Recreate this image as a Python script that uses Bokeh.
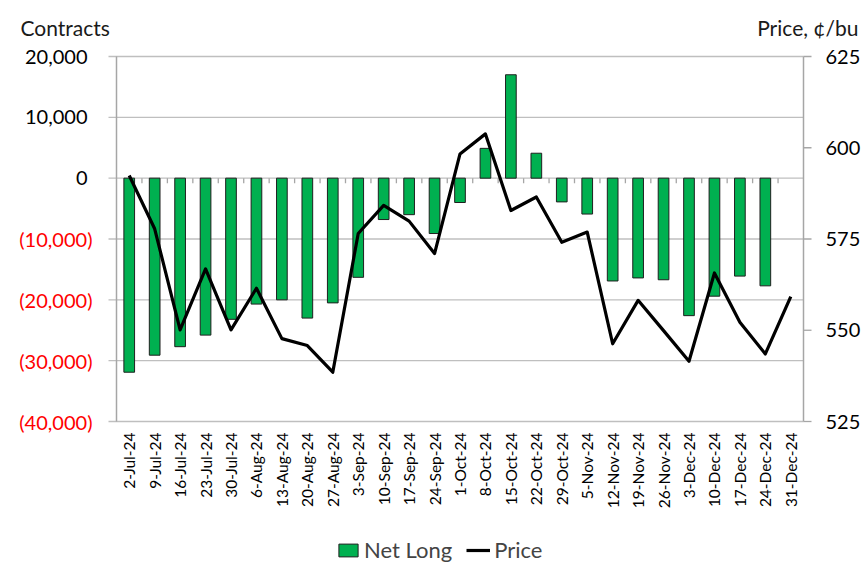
import numpy as np
from bokeh.plotting import figure
from bokeh.models import Range1d, Legend, LegendItem
from bokeh.embed import file_html
from bokeh.resources import INLINE
from bokeh.core.properties import value

dates = ["2-Jul-24", "9-Jul-24", "16-Jul-24", "23-Jul-24", "30-Jul-24", "6-Aug-24",
         "13-Aug-24", "20-Aug-24", "27-Aug-24", "3-Sep-24", "10-Sep-24", "17-Sep-24",
         "24-Sep-24", "1-Oct-24", "8-Oct-24", "15-Oct-24", "22-Oct-24", "29-Oct-24",
         "5-Nov-24", "12-Nov-24", "19-Nov-24", "26-Nov-24", "3-Dec-24", "10-Dec-24",
         "17-Dec-24", "24-Dec-24", "31-Dec-24"]
net_long = [-31900, -29100, -27700, -25800, -23200, -20700, -20000, -23000, -20500,
            -16300, -6800, -6000, -9100, -4000, 4900, 17000, 4100, -3900,
            -5900, -16900, -16400, -16700, -22600, -19400, -16100, -17700]
price = [592.4, 577.8, 550.1, 566.8, 550.1, 561.5, 547.7, 545.8, 538.5,
         576.5, 584.2, 579.9, 571.0, 598.3, 603.8, 582.8, 586.5, 574.1,
         576.9, 546.3, 558.2, 549.9, 541.5, 565.7, 552.2, 543.5, 559.2]
left_ticks = [-40000, -30000, -20000, -10000, 0, 10000, 20000]
right_ticks = [525, 550, 575, 600, 625]
left_title = "Contracts"
right_title = "Price, ¢/bu"

FONT = "Lato"
GRID = "#BFBFBF"
AXIS = "#A6A6A6"

# layout (pixels): canvas and plot-area box
W, H = 865, 564
F_LEFT, F_RIGHT, F_TOP, F_BOTTOM = 116, 803, 56, 421

n = len(dates)
idx = list(range(n))
cat_lo, cat_hi = -0.5, n - 0.5
ppx = (F_RIGHT - F_LEFT) / (cat_hi - cat_lo)
x_start = cat_lo - F_LEFT / ppx
x_end = cat_hi + (W - F_RIGHT) / ppx

y_lo, y_hi = left_ticks[0], left_ticks[-1]
ppy = (F_BOTTOM - F_TOP) / (y_hi - y_lo)
y_start = y_lo - (H - F_BOTTOM) / ppy
y_end = y_hi + F_TOP / ppy

p_lo, p_hi = right_ticks[0], right_ticks[-1]
ppp = (F_BOTTOM - F_TOP) / (p_hi - p_lo)
p_start = p_lo - (H - F_BOTTOM) / ppp
p_end = p_hi + F_TOP / ppp


def dx(px):
    return px / ppx


def dy(px):
    return px / ppy


def page_x(px):
    return x_start + px / ppx


def page_y(py):
    return y_end - py / ppy


p = figure(width=W, height=H, title=None,
           x_range=Range1d(x_start, x_end), y_range=Range1d(y_start, y_end),
           x_axis_location=None, y_axis_location=None,
           min_border=0, min_border_left=0, min_border_right=0,
           min_border_top=0, min_border_bottom=0,
           output_backend="svg", toolbar_location=None)
p.grid.visible = False
p.outline_line_color = None
p.background_fill_color = "white"
p.border_fill_color = "white"
p.extra_y_ranges = {"price": Range1d(p_start, p_end)}

# horizontal gridlines (with their outside tick stubs on the left)
m = len(left_ticks)
p.segment(x0=[cat_lo - dx(8)] * m, y0=left_ticks, x1=[cat_hi] * m, y1=left_ticks,
          line_color=GRID, line_width=1.3)

# bars
bars = p.vbar(x=idx[:len(net_long)], top=net_long, bottom=0, width=0.42,
              fill_color="#00B050", line_color="#1F1F1F", line_width=1)

# category ticks on the zero line
bounds = [i + 0.5 for i in range(n - 1)]
p.segment(x0=bounds, y0=[0] * len(bounds), x1=bounds, y1=[-dy(5)] * len(bounds),
          line_color=AXIS, line_width=1.3)

# axis lines
p.segment(x0=[cat_lo, cat_hi], y0=[y_lo, y_lo], x1=[cat_lo, cat_hi], y1=[y_hi, y_hi],
          line_color=AXIS, line_width=1.5)
# right axis ticks
k = len(right_ticks)
p.segment(x0=[cat_hi] * k, y0=right_ticks, x1=[cat_hi + dx(8)] * k, y1=right_ticks,
          y_range_name="price", line_color=AXIS, line_width=1.3)

# price line
pline = p.line(x=idx, y=price, y_range_name="price", line_color="black",
               line_width=3.2, line_join="round")

# left tick labels: black for >= 0, red in parentheses for negatives
pos = [t for t in left_ticks if t >= 0]
neg = [t for t in left_ticks if t < 0]
p.text(x=[cat_lo - dx(29)] * len(pos), y=pos, text=[f"{t:,}" for t in pos],
       text_font=value(FONT), text_font_size="20px", text_color="black",
       text_align="right", text_baseline="middle")
p.text(x=[cat_lo - dx(24)] * len(neg), y=neg, text=[f"({-t:,})" for t in neg],
       text_font=value(FONT), text_font_size="20px", text_color="#FF0000",
       text_align="right", text_baseline="middle")

# right tick labels
p.text(x=[cat_hi + dx(22)] * k, y=right_ticks, text=[str(t) for t in right_ticks],
       y_range_name="price", text_font=value(FONT), text_font_size="20px",
       text_color="black", text_align="left", text_baseline="middle")

# category labels
p.text(x=idx, y=[y_lo - dy(11)] * n, text=dates, angle=np.pi / 2,
       text_font=value(FONT), text_font_size="15.5px", text_color="black",
       text_align="right", text_baseline="middle")

# axis titles
p.text(x=[page_x(20)], y=[page_y(27)], text=[left_title], text_font=value(FONT),
       text_font_size="21px", text_color="#1A1A1A", text_align="left",
       text_baseline="alphabetic")
p.text(x=[page_x(858)], y=[page_y(27)], text=[right_title], text_font=value(FONT),
       text_font_size="21px", text_color="#1A1A1A", text_align="right",
       text_baseline="alphabetic")

legend = Legend(items=[LegendItem(label="Net Long", renderers=[bars]),
                       LegendItem(label="Price", renderers=[pline])],
                orientation="horizontal", location=(336, 1),
                label_text_font=FONT, label_text_font_size="22px",
                glyph_width=24, glyph_height=16, label_standoff=4, spacing=14,
                padding=2, margin=0, border_line_color=None,
                background_fill_alpha=0)
p.add_layout(legend)

open("out.html", "w").write(file_html(p, INLINE))
